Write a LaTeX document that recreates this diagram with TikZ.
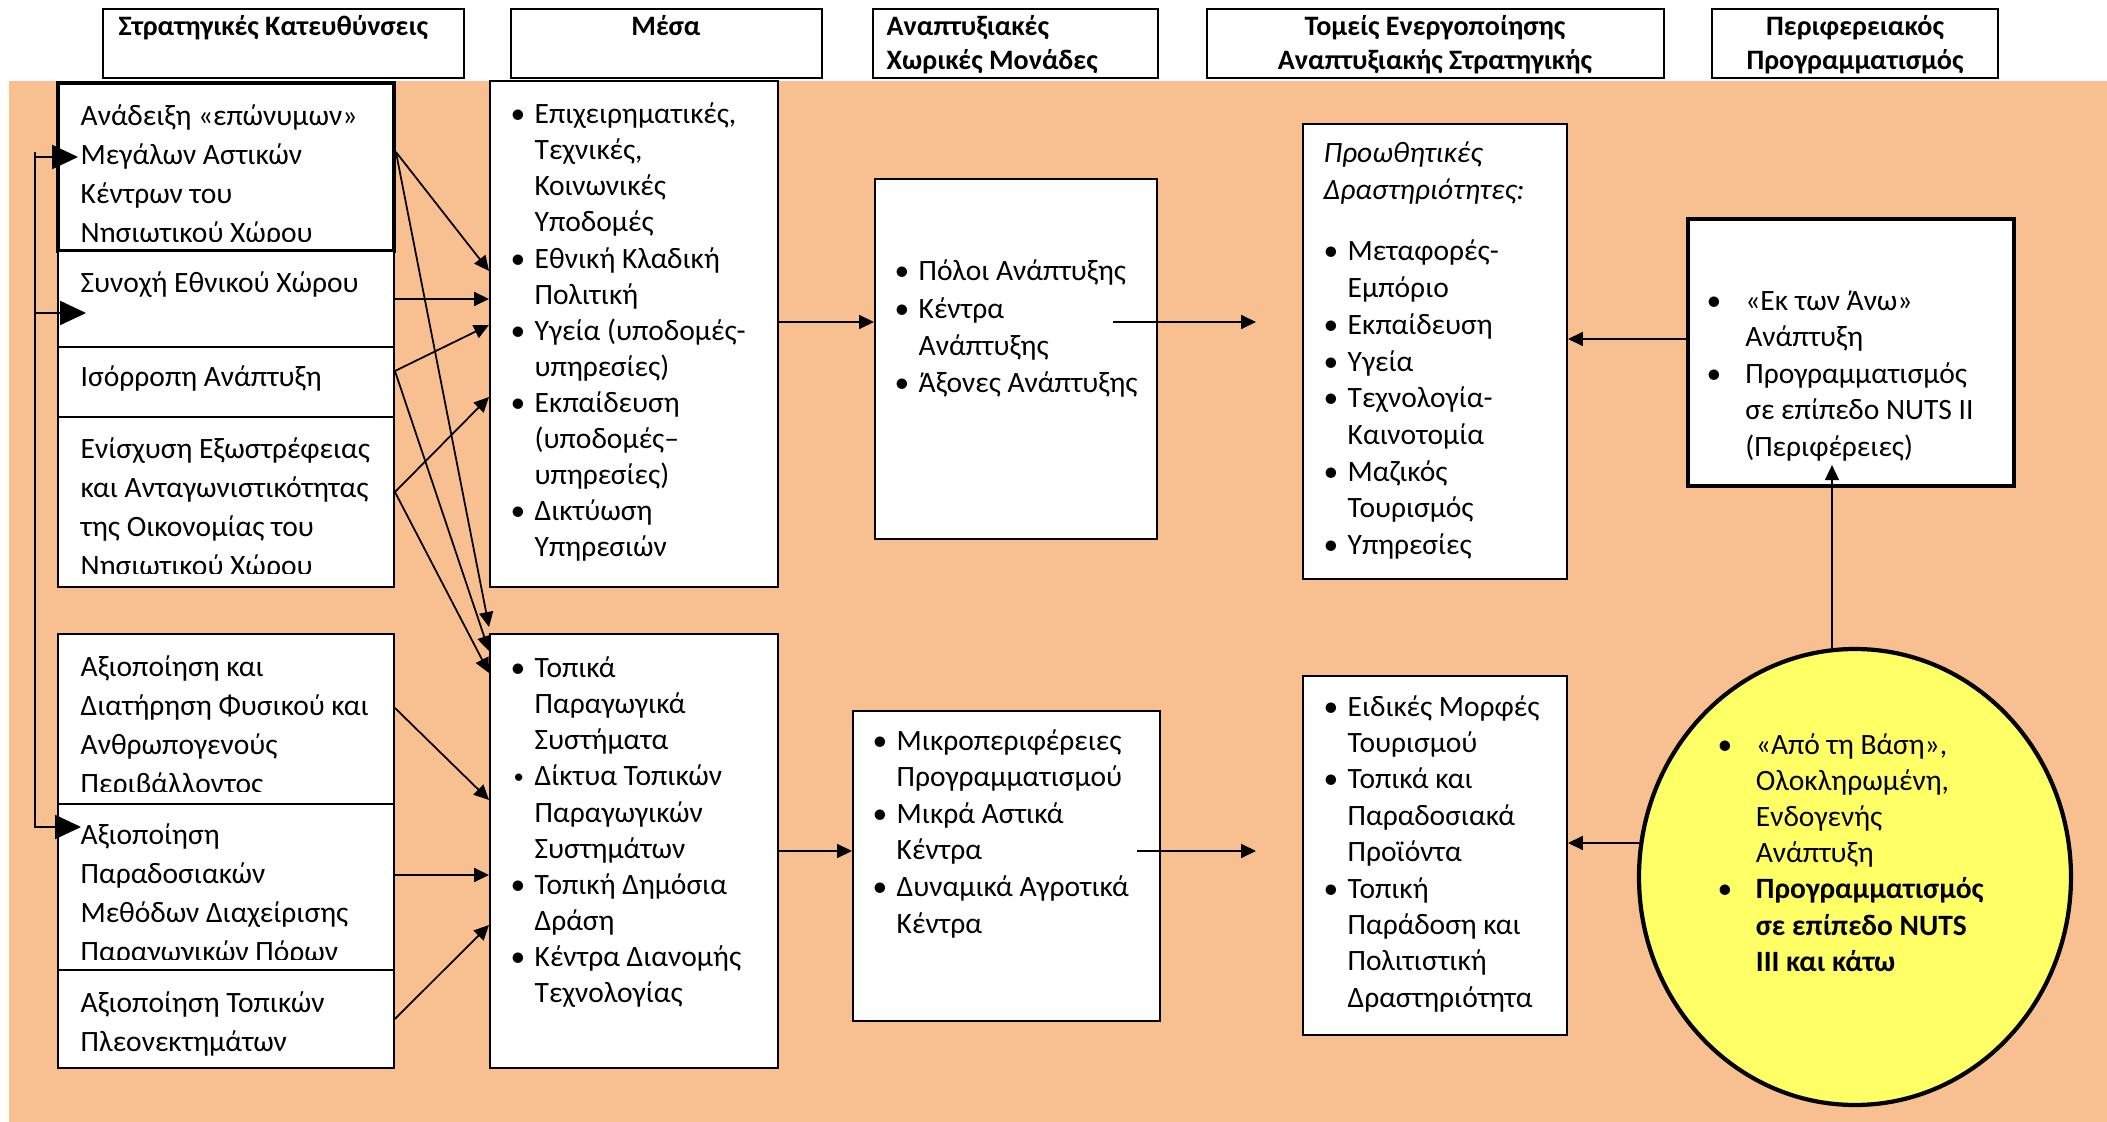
\documentclass[tikz,border=0pt]{standalone}
\usepackage{fontspec}
\setmainfont{Carlito}
\usetikzlibrary{arrows.meta,shapes.geometric}
\definecolor{bgorange}{RGB}{248,192,144}
\definecolor{circyellow}{RGB}{255,255,102}
% bullets with hanging indent
\newcommand{\blt}[1][2.4mm]{\makebox[#1][l]{\textbullet}}
\newcommand{\sblt}[1][2.4mm]{\makebox[#1][l]{\kern0.3mm\raisebox{0.2ex}{\scalebox{0.7}{\textbullet}}}}
\newcommand{\bln}[1][2.4mm]{\makebox[#1]{}}
\newcommand{\bodysz}[1]{\fontsize{8.4pt}{#1}\selectfont}

\begin{document}
\begin{tikzpicture}[x=0.1mm, y=-0.1mm,
    box/.style 2 args={draw, fill=white, line width=0.55pt, inner sep=0pt,
      minimum width=#1*0.1mm, minimum height=#2*0.1mm},
    hbox/.style 2 args={box={#1}{#2}, line width=0.75pt},
    txt/.style={anchor=north west, inner sep=0pt, align=left},
    hd/.style={inner sep=0pt, align=center, font=\fontsize{8pt}{9.56pt}\selectfont\bfseries},
    arr/.style={line width=0.5pt, -{Triangle[length=1.5mm,width=1.4mm]}},
    bigarr/.style={line width=0.6pt, -{Triangle[length=2.6mm,width=2.4mm]}}]
  \useasboundingbox (0,0) rectangle (2107,1122);
  \fill[bgorange] (9,81) rectangle (2107,1122);

  % column titles
  \node[hbox={361}{69}] (h1) at (283.5,43.5) {};
  \node[hbox={311}{69}] (h2) at (666.5,43.5) {};
  \node[hbox={285}{69}] (h3) at (1015.5,43.5) {};
  \node[hbox={457}{69}] (h4) at (1435.5,43.5) {};
  \node[hbox={286}{69}] (h5) at (1855,43.5) {};
  \node[hd, anchor=north west] (h1t) at (118,11.5) {\strut Στρατηγικές Κατευθύνσεις};
  \node[hd, anchor=north] (h2t) at (666,11.5) {\strut Μέσα};
  \node[hd, anchor=north west, align=left] (h3t) at (886,11.5) {\strut Αναπτυξιακές\\Χωρικές Μονάδες};
  \node[hd, anchor=north] (h4t) at (1435,11.5) {\strut Τομείς Ενεργοποίησης\\Αναπτυξιακής Στρατηγικής};
  \node[hd, anchor=north] (h5t) at (1855,11.5) {\strut Περιφερειακός\\Προγραμματισμός};

  % strategic directions
  \node[box={336}{168}, line width=1.1pt] (sd1) at (226,167) {};
  \node[box={336}{96}] (sd2) at (226,299) {};
  \node[box={336}{70}] (sd3) at (226,382) {};
  \node[box={336}{170}] (sd4) at (226,502) {};
  \node[box={336}{170}] (sd5) at (226,719) {};
  \node[box={336}{166}] (sd6) at (226,887) {};
  \node[box={336}{98}] (sd7) at (226,1019) {};
  \begin{scope}
    \clip ([shift={(2,2)}]sd1.north west) rectangle ([shift={(-2,-11)}]sd1.south east);
    \node[txt, font=\bodysz{11.1pt}] (sd1t) at (80,97) {\strut Ανάδειξη «επώνυμων»\\Μεγάλων Αστικών\\Κέντρων του\\Νησιωτικού Χώρου};
  \end{scope}
  \node[txt, font=\bodysz{11.1pt}] (sd2t) at (80,264) {\strut Συνοχή Εθνικού Χώρου};
  \node[txt, font=\bodysz{11.1pt}] (sd3t) at (80,358) {\strut Ισόρροπη Ανάπτυξη};
  \begin{scope}
    \clip ([shift={(2,2)}]sd4.north west) rectangle ([shift={(-2,-14)}]sd4.south east);
    \node[txt, font=\bodysz{11.1pt}] (sd4t) at (80,430) {\strut Ενίσχυση Εξωστρέφειας\\και Ανταγωνιστικότητας\\της Οικονομίας του\\Νησιωτικού Χώρου};
  \end{scope}
  \begin{scope}
    \clip ([shift={(2,2)}]sd5.north west) rectangle ([shift={(-2,-13)}]sd5.south east);
    \node[txt, font=\bodysz{11.1pt}] (sd5t) at (80,648) {\strut Αξιοποίηση και\\Διατήρηση Φυσικού και\\Ανθρωπογενούς\\Περιβάλλοντος};
  \end{scope}
  \begin{scope}
    \clip ([shift={(2,2)}]sd6.north west) rectangle ([shift={(-2,-11)}]sd6.south east);
    \node[txt, font=\bodysz{11.1pt}] (sd6t) at (80,816) {\strut Αξιοποίηση\\Παραδοσιακών\\Μεθόδων Διαχείρισης\\Παραγωγικών Πόρων};
  \end{scope}
  \node[txt, font=\bodysz{11.1pt}] (sd7t) at (80,984) {\strut Αξιοποίηση Τοπικών\\Πλεονεκτημάτων};

  % means
  \node[box={288}{506}] (ms1) at (634,334) {};
  \node[box={288}{434}] (ms2) at (634,851) {};
  \node[txt, font=\bodysz{10.25pt}] (ms1t) at (510,98) {\strut\blt Επιχειρηματικές,\\\bln Τεχνικές,\\\bln Κοινωνικές\\\bln Υποδομές\\\blt Εθνική Κλαδική\\\bln Πολιτική\\\blt Υγεία (υποδομές-\\\bln υπηρεσίες)\\\blt Εκπαίδευση\\\bln (υποδομές–\\\bln υπηρεσίες)\\\blt Δικτύωση\\\bln Υπηρεσιών};
  \node[txt, font=\bodysz{10.25pt}] (ms2t) at (510,652) {\strut\blt Τοπικά\\\bln Παραγωγικά\\\bln Συστήματα\\\sblt Δίκτυα Τοπικών\\\bln Παραγωγικών\\\bln Συστημάτων\\\blt Τοπική Δημόσια\\\bln Δράση\\\blt Κέντρα Διανομής\\\bln Τεχνολογίας};

  % spatial units
  \node[box={282}{360}] (xm1) at (1016,359) {};
  \node[box={307}{310}] (xm2) at (1006.5,866) {};
  \node[txt, font=\bodysz{10.6pt}] (xm1t) at (894,254) {\strut\blt Πόλοι Ανάπτυξης\\\blt Κέντρα\\\bln Ανάπτυξης\\\blt Άξονες Ανάπτυξης};
  \node[txt, font=\bodysz{10.4pt}] (xm2t) at (872,724) {\strut\blt Μικροπεριφέρειες\\\bln Προγραμματισμού\\\blt Μικρά Αστικά\\\bln Κέντρα\\\blt Δυναμικά Αγροτικά\\\bln Κέντρα};

  % sectors
  \node[box={264}{455}] (tm1) at (1435,351.5) {};
  \node[box={264}{359}] (tm2) at (1435,855.5) {};
  \node[txt, font=\bodysz{10.45pt}] (tm1t) at (1323,136) {\strut\textit{Προωθητικές}\\\textit{Δραστηριότητες:}\\[2.5mm]\blt Μεταφορές-\\\bln Εμπόριο\\\blt Εκπαίδευση\\\blt Υγεία\\\blt Τεχνολογία-\\\bln Καινοτομία\\\blt Μαζικός\\\bln Τουρισμός\\\blt Υπηρεσίες};
  \node[txt, font=\bodysz{10.35pt}] (tm2t) at (1323,690) {\strut\blt Ειδικές Μορφές\\\bln Τουρισμού\\\blt Τοπικά και\\\bln Παραδοσιακά\\\bln Προϊόντα\\\blt Τοπική\\\bln Παράδοση και\\\bln Πολιτιστική\\\bln Δραστηριότητα};

  % regional planning
  \node[box={326}{267}, line width=1.2pt] (pp1) at (1851,352.5) {};
  \node[ellipse, draw, line width=1.2pt, fill=circyellow, inner sep=0pt,
    minimum width=43.2mm, minimum height=45.6mm] (pp2) at (1855,877) {};
  \node[txt, font=\bodysz{10.4pt}] (pp1t) at (1706,284) {\strut\blt[3.2mm] «Εκ των Άνω»\\\bln[3.2mm] Ανάπτυξη\\\blt[3.2mm] Προγραμματισμός\\\bln[3.2mm] σε επίπεδο NUTS II\\\bln[3.2mm] (Περιφέρειες)};
  \node[txt, font=\bodysz{10.3pt}] (pp2t) at (1717,728) {\strut\blt[3.15mm] «Από τη Βάση»,\\\bln[3.15mm] Ολοκληρωμένη,\\\bln[3.15mm] Ενδογενής\\\bln[3.15mm] Ανάπτυξη\\\blt[3.15mm] \textbf{Προγραμματισμός}\\\bln[3.15mm] \textbf{σε επίπεδο NUTS}\\\bln[3.15mm] \textbf{III και κάτω}};

  % directions -> means
  \draw[arr] ([shift={(0,-15)}]sd1.east) -- ([shift={(0,-63)}]ms1.west);
  \draw[arr] ([shift={(0,-15)}]sd1.east) -- ([shift={(0,-6)}]ms2.north west);
  \draw[arr] (sd2.east) -- (sd2.east -| ms1.west);
  \draw[arr] ([shift={(0,-11)}]sd3.east) -- ([shift={(0,-9)}]ms1.west);
  \draw[arr] ([shift={(0,-11)}]sd3.east) -- ([shift={(0,-200)}]ms2.west);
  \draw[arr] ([shift={(0,-10)}]sd4.east) -- ([shift={(0,63)}]ms1.west);
  \draw[arr] ([shift={(0,-10)}]sd4.east) -- ([shift={(0,-178)}]ms2.west);
  \draw[arr] ([shift={(0,-11)}]sd5.east) -- ([shift={(0,-51)}]ms2.west);
  \draw[arr] ([shift={(0,-12)}]sd6.east) -- ([shift={(0,24)}]ms2.west);
  \draw[arr] (sd7.east) -- ([shift={(0,74)}]ms2.west);

  % feedback loop on the left
  \coordinate (lpx) at (35,152);
  \coordinate (lp1) at ([shift={(22,-10)}]sd1.west);
  \coordinate (lp2) at ([shift={(29,14)}]sd2.west);
  \coordinate (lp3) at ([shift={(24,-60)}]sd6.west);
  \draw[bigarr] (lpx) -- (lpx |- lp3) -- (lp3);
  \draw[bigarr] (lpx |- lp1) -- (lp1);
  \draw[bigarr] (lpx |- lp2) -- (lp2);

  % means -> units -> sectors
  \coordinate (tp1) at (1256,322);
  \coordinate (tp2) at (1256,851);
  \draw[arr] ([shift={(0,-12)}]ms1.east) -- ([shift={(0,-37)}]xm1.west);
  \draw[arr] ([shift={(-45,-37)}]xm1.east) -- (tp1);
  \draw[arr] (ms2.east) -- ([shift={(0,-15)}]xm2.west);
  \draw[arr] ([shift={(-24,-15)}]xm2.east) -- (tp2);

  % planning -> sectors
  \draw[arr] ([shift={(0,-13.5)}]pp1.west) -- ([shift={(0,-12.5)}]tm1.east);
  \draw[arr] ([shift={(2,-34)}]pp2.west) -- ([shift={(0,-12.5)}]tm2.east);
  \draw[arr] ([shift={(-23,1)}]pp2.north) -- ([shift={(-19,-23)}]pp1.south);
\end{tikzpicture}
\end{document}
